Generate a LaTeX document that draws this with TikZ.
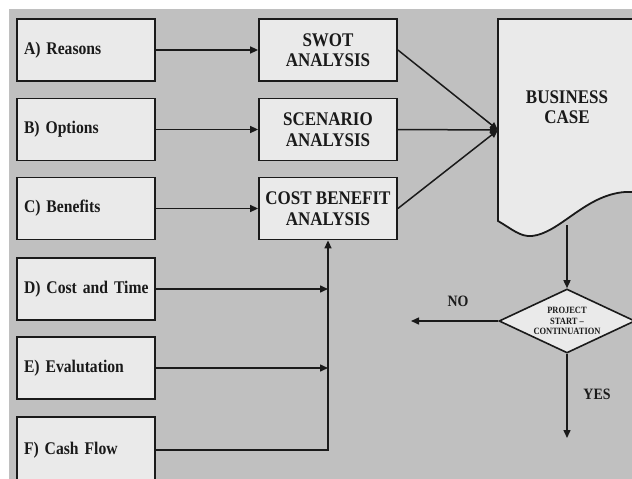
\documentclass[tikz,border=0pt]{standalone}
\usepackage{fontspec}
\setmainfont[FakeStretch=0.88]{Liberation Serif}
\usetikzlibrary{arrows.meta,shapes.geometric}
\definecolor{bg}{HTML}{C0C0C0}
\definecolor{boxfill}{HTML}{EAEAEA}
\definecolor{ink}{HTML}{1A1A1A}
\begin{document}
\begin{tikzpicture}[x=1pt,y=-1pt,
  leftbox/.style={draw=ink, line width=1.8pt, fill=boxfill, minimum width=138pt, minimum height=62pt,
    inner sep=0pt, text width=124pt, align=left, text=ink, font=\bfseries\fontsize{17.8}{20}\selectfont},
  midbox/.style={draw=ink, line width=1.8pt, fill=boxfill, minimum width=138pt, minimum height=62pt,
    inner sep=0pt, align=center, text=ink, font=\bfseries\fontsize{19.3}{20.5}\selectfont},
  arr/.style={draw=ink, line width=1.5pt, -{Triangle[length=8pt,width=7pt]}},
  lbl/.style={text=ink, inner sep=0pt, font=\bfseries\fontsize{15.8}{18}\selectfont}]
\useasboundingbox (0,0) rectangle (632,479);
\fill[bg] (9,9) rectangle (632,479);
% left boxes
\node[leftbox] (a) at (86,50) {\mbox{A) Reasons}};
\node[leftbox] (b) at (86,129.5) {\mbox{B) Options}};
\node[leftbox] (c) at (86,208.5) {\mbox{C) Benefits}};
\node[leftbox] (d) at (86,289) {\mbox{D) Cost and Time}};
\node[leftbox] (e) at (86,368) {\mbox{E) Evalutation}};
\node[leftbox, minimum height=66pt] (f) at (86,450) {\mbox{F) Cash Flow}};
% middle boxes
\node[midbox] (swot) at (328,50) {SWOT\\ANALYSIS};
\node[midbox] (scen) at (328,129.5) {SCENARIO\\ANALYSIS};
\node[midbox] (cba) at (328,208.5) {COST BENEFIT\\ANALYSIS};
% business case document shape
\draw[draw=ink, line width=1.8pt, fill=boxfill]
  (498,19) -- (645,19) -- (645,192) -- (625,192)
  .. controls (585,195) and (560,233) .. (532,236)
  .. controls (520,237) and (512,229) .. (498,221) -- cycle;
\node[text=ink, align=center, font=\bfseries\fontsize{19.3}{20.5}\selectfont] (bc) at (567,107) {BUSINESS\\CASE};
\coordinate (bcin) at (498,130);
\coordinate (bcb) at (567,225);
% decision
\node[diamond, draw=ink, line width=1.6pt, fill=boxfill, minimum width=136pt, minimum height=64pt,
  inner sep=0pt, aspect=2.125, align=center, text=ink, font=\bfseries\fontsize{9.6}{10.5}\selectfont]
  (dec) at (567,321) {PROJECT\\START –\\CONTINUATION};
\coordinate (noend) at (411,321);
\coordinate (yesend) at (567,438);
\node[lbl] (no) at (458,301) {NO};
\node[lbl] (yes) at (597,394) {YES};
% connectors
\draw[arr] (a.east) -- (swot.west);
\draw[arr] (b.east) -- (scen.west);
\draw[arr] (c.east) -- (cba.west);
\draw[arr] (d.east) -- (d.east -| cba.south);
\draw[arr] (e.east) -- (e.east -| cba.south);
\draw[arr] (f.east) -| (cba.south);
\draw[arr] (swot.east) -- (bcin);
\draw[arr] (scen.east) -- (bcin);
\draw[arr] (cba.east) -- (bcin);
\draw[arr] (bcb) -- (dec.north);
\draw[arr] (dec.west) -- (noend);
\draw[arr] (dec.south) -- (yesend);
\end{tikzpicture}
\end{document}
